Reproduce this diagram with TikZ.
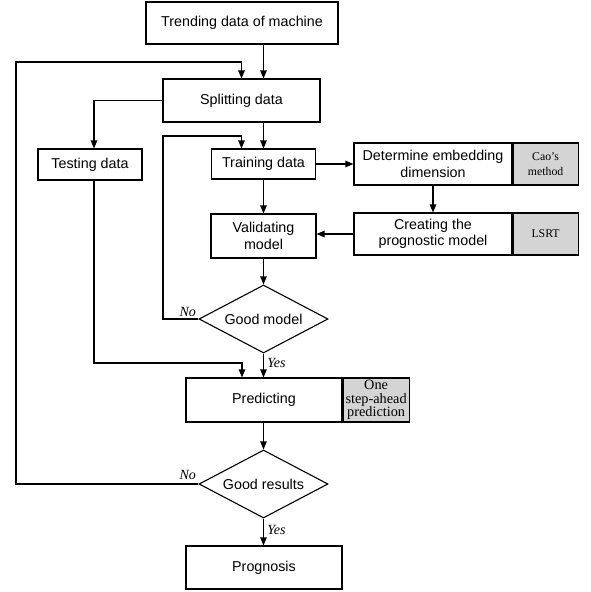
\documentclass[tikz,border=0pt]{standalone}
\usepackage{fontspec}
\setmainfont{Liberation Sans}
\newfontfamily\serif{Liberation Serif}
\usetikzlibrary{shapes.geometric,arrows.meta}

\begin{document}
\begin{tikzpicture}[x=1pt,y=-1pt,line width=1.1pt,
    box/.style={draw,inner sep=0pt,align=center,font=\fontsize{14.3}{16.5}\selectfont},
    side/.style={draw,fill=black!17,inner sep=0pt,align=center,anchor=west},
    cond/.style={draw,diamond,aspect=1.9,inner sep=0pt,minimum width=129pt,minimum height=68pt,font=\fontsize{14.3}{16.5}\selectfont},
    lbl/.style={font=\serif\itshape\fontsize{14}{16}\selectfont},
    arr/.style={-{Triangle[length=8pt,width=6.5pt]}}]
    \useasboundingbox (0,0) rectangle (590,592);

    % boxes
    \node[box,minimum width=192pt,minimum height=42pt] (trend) at (242,23) {Trending data of machine};
    \node[box,minimum width=157pt,minimum height=43pt] (split) at (241.5,100.5) {Splitting data};
    \node[box,minimum width=104pt,minimum height=31pt] (test) at (90,164.5) {Testing data};
    \node[box,minimum width=104pt,minimum height=30pt] (train) at (263.5,164) {Training data};
    \node[box,minimum width=158pt,minimum height=42pt] (embed) at (433,164) {Determine embedding\\dimension};
    \node[side,minimum width=65pt,minimum height=42pt,font=\serif\fontsize{11.8}{15}\selectfont] (cao) at (embed.east) {Cao’s\\method};
    \node[box,minimum width=158pt,minimum height=42pt] (create) at (433,234) {Creating the\\prognostic model};
    \node[side,minimum width=65pt,minimum height=42pt,font=\serif\fontsize{11.8}{15}\selectfont] (lsrt) at (create.east) {LSRT};
    \node[box,minimum width=105pt,minimum height=44pt] (valid) at (263.5,236) {Validating\\model};
    \node[cond] (gm) at (263.5,319) {Good model};
    \node[box,minimum width=156pt,minimum height=44pt] (pred) at (264,400) {Predicting};
    \node[side,minimum width=66pt,minimum height=44pt,font=\serif\fontsize{14.3}{13.5}\selectfont] (ahead) at (pred.east) {One\\step-ahead\\prediction};
    \node[cond] (gr) at (263.5,484) {Good results};
    \node[box,minimum width=156pt,minimum height=43pt] (prog) at (264,567.5) {Prognosis};

    \coordinate (back) at (16,62);
    \coordinate (loop) at (163,136);
    \coordinate (join) at (242,363);

    % main flow
    \draw[arr] (trend.south -| train.north) -- (split.north -| train.north);
    \draw[arr] (split.south -| train.north) -- (train.north);
    \draw[arr] (split.west) -| ([xshift=4pt]test.north);
    \draw[arr] (train.east) -- (embed.west);
    \draw[arr] (embed.south) -- (create.north);
    \draw[arr] (create.west) -- (create.west -| valid.east);
    \draw[arr] (train.south) -- (valid.north);
    \draw[arr] (valid.south) -- (gm.north);
    \draw[arr] (gm.south) -- node[lbl,right,pos=0.38]{Yes} (gm.south |- pred.north);
    \draw[arr] ([xshift=4pt]test.south) |- (join) -- (join |- pred.north);
    \draw[arr] (pred.south -| gr.north) -- (gr.north);
    \draw[arr] (gr.south) -- node[lbl,right,pos=0.43]{Yes} (gr.south |- prog.north);

    % loops back
    \draw[arr] (gm.west) node[lbl,above left,inner sep=2pt]{No} -| (loop) -| (train.north -| split.center);
    \draw[arr] (gr.west) node[lbl,above left,inner sep=2pt,yshift=2pt]{No} -| (back) -| (split.north);

\end{tikzpicture}
\end{document}
